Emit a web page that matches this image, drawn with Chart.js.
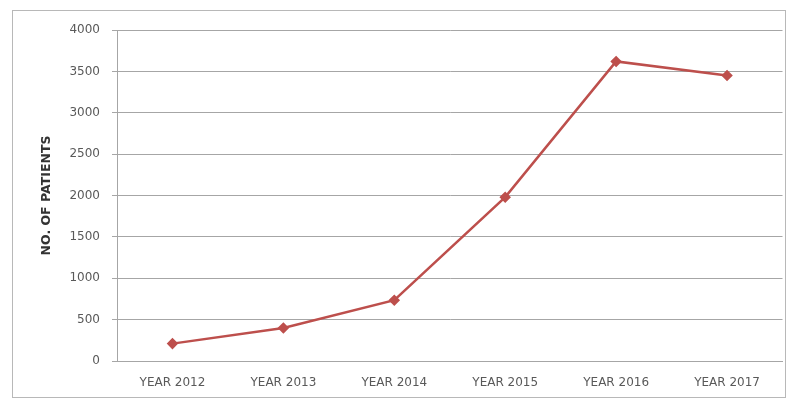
<!DOCTYPE html>
<html>
<head>
<meta charset="utf-8">
<script src="https://cdn.jsdelivr.net/npm/chart.js@4.4.0/dist/chart.umd.min.js"></script>
<style>
html,body{margin:0;padding:0;background:#fff;}
#wrap{position:relative;width:789px;height:401px;}
</style>
</head>
<body>
<div id="wrap"><canvas id="c" width="789" height="401"></canvas></div>
<script>
const categories = ["YEAR 2012","YEAR 2013","YEAR 2014","YEAR 2015","YEAR 2016","YEAR 2017"];
const patients = [210, 400, 735, 1980, 3620, 3450];
const yTicks = [0, 500, 1000, 1500, 2000, 2500, 3000, 3500, 4000];
const yTitle = "NO. OF PATIENTS";

const frame = {
  id: 'frame',
  beforeDraw(chart) {
    const ctx = chart.ctx;
    ctx.save();
    ctx.fillStyle = '#fff';
    ctx.fillRect(0, 0, chart.width, chart.height);
    ctx.strokeStyle = '#b8b8b8';
    ctx.lineWidth = 1;
    ctx.strokeRect(12.5, 10.5, 773, 387);
    ctx.restore();
  }
};

new Chart(document.getElementById('c'), {
  type: 'line',
  data: {
    labels: categories,
    datasets: [{
      data: patients,
      borderColor: '#bd4f4c',
      backgroundColor: '#bd4f4c',
      borderWidth: 2.5,
      pointStyle: 'rectRot',
      pointRadius: 4,
      pointHoverRadius: 4,
      tension: 0,
      fill: false
    }]
  },
  options: {
    responsive: false,
    animation: false,
    events: [],
    layout: { padding: { left: 36, top: 30, right: 6, bottom: 0 } },
    plugins: { legend: { display: false }, tooltip: { enabled: false } },
    scales: {
      x: {
        offset: true,
        grid: { display: false, drawTicks: false },
        border: { display: true, color: '#a6a6a6', width: 1 },
        ticks: {
          autoSkip: false, maxRotation: 0, padding: 15,
          color: '#595959',
          font: { family: 'DejaVu Sans', size: 12 }
        },
        afterFit(s) { s.height = 40; }
      },
      y: {
        min: 0, max: 4000,
        afterBuildTicks(s) { s.ticks = yTicks.map(v => ({ value: v })); },
        grid: { color: '#a6a6a6', lineWidth: 1, drawTicks: true, tickLength: 5 },
        border: { display: true, color: '#a6a6a6', width: 1 },
        ticks: {
          padding: 12, color: '#595959',
          font: { family: 'DejaVu Sans', size: 12 },
          callback: (v) => String(v)
        },
        title: {
          display: true, text: yTitle, color: '#333',
          font: { family: 'DejaVu Sans', size: 12.5, weight: 'bold' },
          padding: { top: 3, bottom: 0 }
        },
        afterFit(s) { s.width = 81; }
      }
    }
  },
  plugins: [frame]
});
</script>
</body>
</html>
